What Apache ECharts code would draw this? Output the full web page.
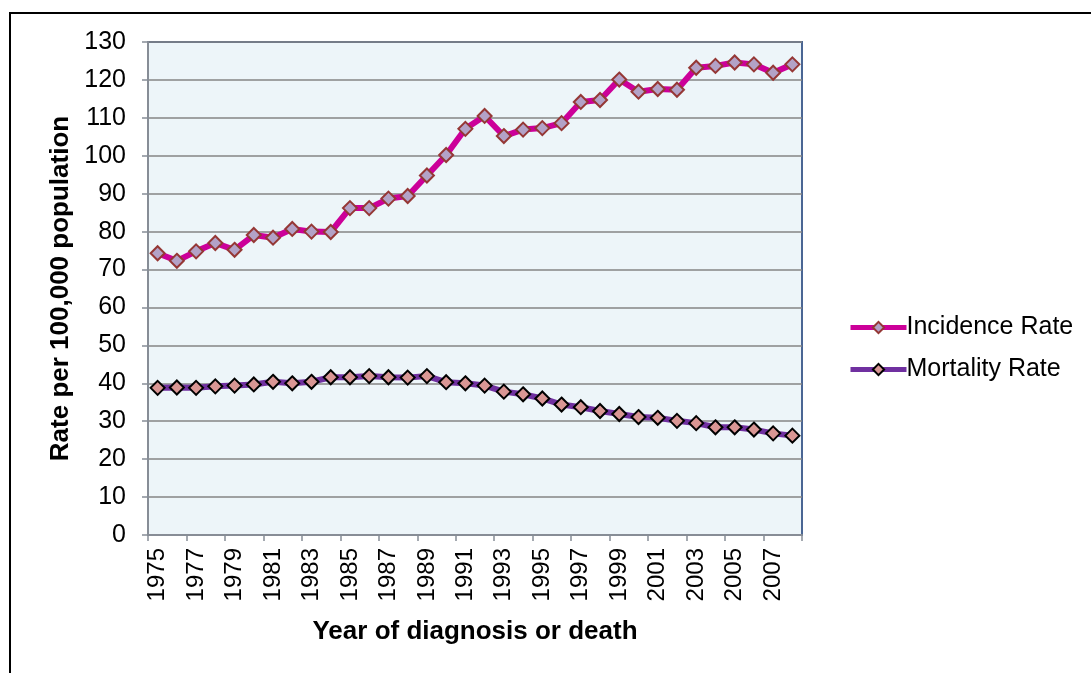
<!DOCTYPE html>
<html>
<head>
<meta charset="utf-8">
<script src="https://cdn.jsdelivr.net/npm/echarts@6/dist/echarts.min.js"></script>
<style>
  html, body { margin: 0; padding: 0; background: #fff; }
  #main { width: 1091px; height: 673px; }
</style>
</head>
<body>
<div id="main"></div>
<script>
// years along the x axis
var years = [];
for (var y = 1975; y <= 2008; y++) years.push(String(y));

// rates per 100,000
var incidenceRate = [74.3, 72.3, 74.8, 77.0, 75.2, 79.1, 78.4, 80.7, 80.0, 79.9,
                     86.2, 86.2, 88.7, 89.4, 94.8, 100.2, 107.1, 110.5, 105.2, 106.9,
                     107.3, 108.6, 114.2, 114.7, 120.1, 116.9, 117.6, 117.4, 123.2, 123.7,
                     124.6, 124.1, 121.9, 124.1];
var mortalityRate = [38.8, 38.9, 38.8, 39.2, 39.4, 39.7, 40.4, 40.0, 40.4, 41.6,
                     41.6, 41.9, 41.6, 41.5, 41.9, 40.3, 40.0, 39.4, 37.8, 37.1,
                     36.0, 34.4, 33.7, 32.7, 31.9, 31.1, 30.9, 30.1, 29.5, 28.4,
                     28.4, 27.8, 26.8, 26.2];

var font = 'Liberation Sans, Arial, sans-serif';
var myChart = echarts.init(document.getElementById('main'));

myChart.setOption({
    animation: false,
    backgroundColor: '#ffffff',
    graphic: [
        // outer frame (top + left only)
        { type: 'line', shape: { x1: 9, y1: 13, x2: 1091, y2: 13 }, style: { stroke: '#000', lineWidth: 2 } },
        { type: 'line', shape: { x1: 10, y1: 12, x2: 10, y2: 673 }, style: { stroke: '#000', lineWidth: 2 } }
    ],
    grid: {
        left: 148, top: 42, right: 289, bottom: 138,
        show: true,
        backgroundColor: '#edf5f9',
        borderColor: '#4a6694',
        borderWidth: 2
    },
    legend: {
        orient: 'vertical',
        left: 843, top: 310,
        itemWidth: 56, itemHeight: 14,
        itemGap: 17,
        lineStyle: { width: 5 },
        textStyle: { fontFamily: font, fontSize: 25, color: '#000', padding: [0, 0, 0, -5] },
        data: ['Incidence Rate', 'Mortality Rate']
    },
    xAxis: {
        type: 'category',
        data: years,
        boundaryGap: true,
        name: 'Year of diagnosis or death',
        nameLocation: 'middle',
        nameGap: 84,
        nameTextStyle: { fontFamily: font, fontSize: 26, fontWeight: 'bold', color: '#000' },
        axisLine: { lineStyle: { color: '#878d96', width: 2 } },
        axisTick: { show: true, interval: 1, length: 6, alignWithLabel: false, lineStyle: { color: '#878d96', width: 1.5 } },
        axisLabel: { interval: 1, rotate: 90, margin: 13, fontFamily: font, fontSize: 24, color: '#000' },
        splitLine: { show: false }
    },
    yAxis: {
        type: 'value',
        min: 0, max: 130, interval: 10,
        name: 'Rate per 100,000 population',
        nameLocation: 'middle',
        nameGap: 73,
        nameTextStyle: { fontFamily: font, fontSize: 26, fontWeight: 'bold', color: '#000' },
        axisLine: { show: true, lineStyle: { color: '#878d96', width: 2 } },
        axisTick: { show: true, length: 6, lineStyle: { color: '#878d96', width: 1.5 } },
        axisLabel: { margin: 22, fontFamily: font, fontSize: 25, color: '#000' },
        splitLine: { lineStyle: { color: '#858585', width: 1.5 } }
    },
    series: [
        {
            name: 'Incidence Rate',
            type: 'line',
            data: incidenceRate,
            symbol: 'diamond',
            symbolSize: 14,
            showAllSymbol: true,
            lineStyle: { color: '#cc0099', width: 6 },
            itemStyle: { color: '#b3a2c7', borderColor: '#953735', borderWidth: 2 }
        },
        {
            name: 'Mortality Rate',
            type: 'line',
            data: mortalityRate,
            symbol: 'diamond',
            symbolSize: 14,
            showAllSymbol: true,
            lineStyle: { color: '#7030a0', width: 6 },
            itemStyle: { color: '#d99694', borderColor: '#000000', borderWidth: 2 }
        }
    ]
});
</script>
</body>
</html>
